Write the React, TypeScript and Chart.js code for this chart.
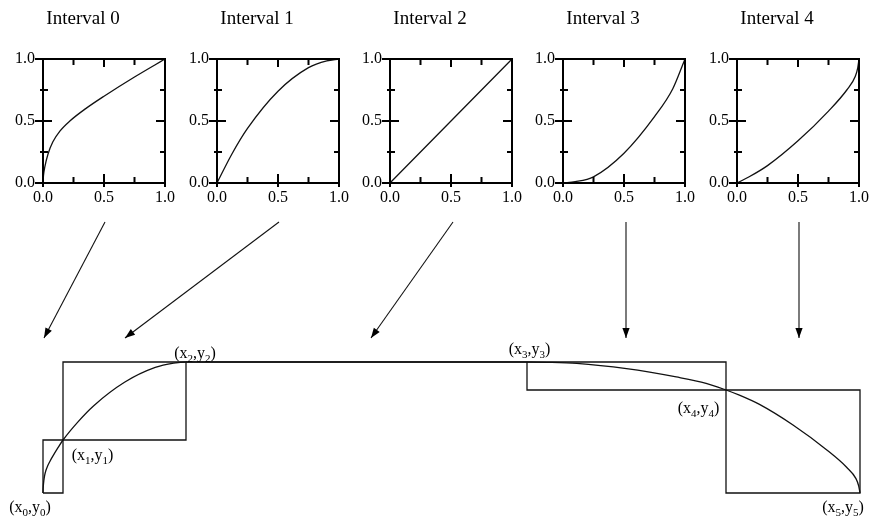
import React, { useEffect, useRef } from "react";
import { Chart, registerables } from "chart.js";

Chart.register(...registerables);

const SERIF = "'Liberation Serif', 'Times New Roman', Times, serif";
const INK = "#000";

// ---- Panel data: normalised shape of each interval (t along it, f = share of the rise) ----
const INTERVAL_TITLES = ["Interval 0", "Interval 1", "Interval 2", "Interval 3", "Interval 4"];

const SHAPE_T_0 = [0, 0.004, 0.015, 0.04, 0.08, 0.14, 0.22, 0.35, 0.5, 0.75, 1];
const SHAPE_F_0 = [0, 0.06, 0.13, 0.23, 0.33, 0.42, 0.5, 0.6, 0.7, 0.855, 1];
const SHAPE_T_1 = [0, 0.12, 0.25, 0.5, 0.75, 0.9, 1];
const SHAPE_F_1 = [0, 0.23, 0.44, 0.74, 0.93, 0.985, 1];
const SHAPE_T_2 = [0, 1];
const SHAPE_F_2 = [0, 1];
const SHAPE_T_3 = [0, 0.1, 0.25, 0.5, 0.75, 0.9, 1];
const SHAPE_F_3 = [0, 0.01, 0.05, 0.24, 0.535, 0.76, 1];
const SHAPE_T_4 = [0, 0.1, 0.25, 0.5, 0.75, 0.9, 0.97, 0.99, 1];
const SHAPE_F_4 = [0, 0.05, 0.14, 0.34, 0.58, 0.75, 0.86, 0.93, 1];

const SHAPES_T = [SHAPE_T_0, SHAPE_T_1, SHAPE_T_2, SHAPE_T_3, SHAPE_T_4];
const SHAPES_F = [SHAPE_F_0, SHAPE_F_1, SHAPE_F_2, SHAPE_F_3, SHAPE_F_4];

// Axis ticks of the small panels
const TICK_VALUES = [0, 0.25, 0.5, 0.75, 1];
const LABELED_TICKS = [0, 0.5, 1];

// ---- Diagram data: knots (x_i, y_i) of the piecewise curve ----
const KNOT_X = [0, 20, 143, 484, 683, 817];
const KNOT_Y = [0, 53, 131, 131, 103, 0];

// Arrows from each panel down to its interval
const ARROW_FROM_X = [62, 236, 410, 583, 756];
const ARROW_TO_X = [1, 82, 328, 583, 756];
const ARROW_FROM_Y = 271;
const ARROW_TO_Y = 155;

// ---- Layout ----
const PANEL_BOX_LEFT = [43, 217, 390, 563, 737];
const PANEL_AXIS_W = 43;
const PANEL_W = 180;
const PANEL_H = 210;
const DIAGRAM_TOP = 210;
const DIAGRAM_H = 310;
const KNOT_LABEL_OFFSETS: [number, number][] = [
  [-13, 19],
  [29.5, 19.5],
  [9, -4],
  [2.5, -8],
  [-27.5, 23],
  [-17, 18.5],
];

// Frame and tick marks of a small panel, on all four sides
const panelFramePlugin = {
  id: "panelFrame",
  afterDatasetsDraw(chart: any) {
    const { ctx, chartArea: a } = chart;
    const xs = chart.scales.x;
    const ys = chart.scales.y;
    ctx.save();
    ctx.strokeStyle = INK;
    ctx.lineWidth = 2;
    ctx.strokeRect(a.left, a.top, a.right - a.left, a.bottom - a.top);
    ctx.beginPath();
    xs.ticks.forEach((t: any) => {
      const px = xs.getPixelForValue(t.value);
      const major = LABELED_TICKS.includes(t.value);
      ctx.moveTo(px, a.bottom + (major ? 4 : 0));
      ctx.lineTo(px, a.bottom - (major ? 9 : 6));
      if (t.value > 0 && t.value < 1) {
        ctx.moveTo(px, a.top);
        ctx.lineTo(px, a.top + (major ? 8 : 6));
      }
    });
    ys.ticks.forEach((t: any) => {
      const py = ys.getPixelForValue(t.value);
      const major = LABELED_TICKS.includes(t.value);
      ctx.moveTo(a.left - (major ? 8 : 3), py);
      ctx.lineTo(a.left + (major ? 9 : 5), py);
      if (t.value > 0 && t.value < 1) {
        ctx.moveTo(a.right, py);
        ctx.lineTo(a.right - (major ? 9 : 5), py);
      }
    });
    ctx.stroke();
    ctx.restore();
  },
};

function drawKnotLabel(ctx: CanvasRenderingContext2D, i: number, cx: number, baseline: number) {
  const mainFont = `16px ${SERIF}`;
  const subFont = `11px ${SERIF}`;
  const parts: [string, boolean][] = [
    ["(x", false],
    [String(i), true],
    [",y", false],
    [String(i), true],
    [")", false],
  ];
  let total = 0;
  const widths = parts.map(([s, sub]) => {
    ctx.font = sub ? subFont : mainFont;
    const w = ctx.measureText(s).width;
    total += w;
    return w;
  });
  let x = cx - total / 2;
  ctx.fillStyle = INK;
  ctx.textAlign = "left";
  ctx.textBaseline = "alphabetic";
  parts.forEach(([s, sub], k) => {
    ctx.font = sub ? subFont : mainFont;
    ctx.fillText(s, x, sub ? baseline + 4 : baseline);
    x += widths[k];
  });
}

// Arrowheads and knot labels of the diagram
const diagramPlugin = {
  id: "diagramMarks",
  afterDatasetsDraw(chart: any) {
    const { ctx } = chart;
    const xs = chart.scales.x;
    const ys = chart.scales.y;
    ctx.save();
    chart.data.datasets.forEach((ds: any) => {
      if (!ds.arrow) return;
      const p0 = ds.data[0];
      const p1 = ds.data[ds.data.length - 1];
      const x0 = xs.getPixelForValue(p0.x);
      const y0 = ys.getPixelForValue(p0.y);
      const x1 = xs.getPixelForValue(p1.x);
      const y1 = ys.getPixelForValue(p1.y);
      const ang = Math.atan2(y1 - y0, x1 - x0);
      const len = 10;
      const half = 3.6;
      const bx = x1 - len * Math.cos(ang);
      const by = y1 - len * Math.sin(ang);
      ctx.fillStyle = INK;
      ctx.beginPath();
      ctx.moveTo(x1, y1);
      ctx.lineTo(bx + half * Math.sin(ang), by - half * Math.cos(ang));
      ctx.lineTo(bx - half * Math.sin(ang), by + half * Math.cos(ang));
      ctx.closePath();
      ctx.fill();
    });
    KNOT_X.forEach((kx, i) => {
      const px = xs.getPixelForValue(kx) + KNOT_LABEL_OFFSETS[i][0];
      const py = ys.getPixelForValue(KNOT_Y[i]) + KNOT_LABEL_OFFSETS[i][1];
      drawKnotLabel(ctx, i, px, py);
    });
    ctx.restore();
  },
};

const tickFont = { family: SERIF, size: 16 };

function panelConfig(i: number): any {
  const points = SHAPES_T[i].map((t, k) => ({ x: t, y: SHAPES_F[i][k] }));
  const setTicks = (scale: any) => {
    scale.ticks = TICK_VALUES.map((v) => ({ value: v }));
  };
  const label = (v: any) => (LABELED_TICKS.includes(Number(v)) ? Number(v).toFixed(1) : "");
  return {
    type: "line",
    data: {
      datasets: [
        {
          data: points,
          borderColor: "#111",
          borderWidth: 1.3,
          pointRadius: 0,
          fill: false,
          cubicInterpolationMode: "monotone",
        },
      ],
    },
    options: {
      animation: false,
      responsive: false,
      events: [],
      layout: { padding: { left: 0, right: PANEL_W - PANEL_AXIS_W - 123, top: 0, bottom: 0 } },
      plugins: {
        legend: { display: false },
        tooltip: { enabled: false },
        title: {
          display: true,
          text: INTERVAL_TITLES[i],
          color: INK,
          font: { family: SERIF, size: 19, weight: "normal", lineHeight: 1.2 },
          padding: { top: 8, bottom: 28.2 },
        },
      },
      scales: {
        x: {
          type: "linear",
          min: 0,
          max: 1,
          afterBuildTicks: setTicks,
          afterFit: (s: any) => {
            s.height = 27;
          },
          grid: { display: false, drawTicks: false },
          border: { display: false },
          ticks: { color: INK, font: tickFont, padding: 5, autoSkip: false, maxRotation: 0, callback: label },
        },
        y: {
          type: "linear",
          min: 0,
          max: 1,
          afterBuildTicks: setTicks,
          afterFit: (s: any) => {
            s.width = PANEL_AXIS_W;
          },
          grid: { display: false, drawTicks: false },
          border: { display: false },
          ticks: { color: INK, font: tickFont, padding: 8, autoSkip: false, callback: label },
        },
      },
    },
    plugins: [panelFramePlugin],
  };
}

function lineSet(data: { x: number; y: number }[], extra: any = {}) {
  return {
    data,
    borderColor: "#111",
    borderWidth: 1.3,
    pointRadius: 0,
    fill: false,
    tension: 0,
    clip: false,
    ...extra,
  };
}

function rect(xa: number, ya: number, xb: number, yb: number) {
  return [
    { x: xa, y: ya },
    { x: xb, y: ya },
    { x: xb, y: yb },
    { x: xa, y: yb },
    { x: xa, y: ya },
  ];
}

function diagramConfig(): any {
  // The curve: each interval's shape placed between its two knots
  const curve: { x: number; y: number }[] = [];
  for (let i = 0; i < 5; i++) {
    SHAPES_T[i].forEach((t, k) => {
      if (i > 0 && k === 0) return;
      curve.push({
        x: KNOT_X[i] + t * (KNOT_X[i + 1] - KNOT_X[i]),
        y: KNOT_Y[i] + SHAPES_F[i][k] * (KNOT_Y[i + 1] - KNOT_Y[i]),
      });
    });
  }
  const datasets: any[] = [
    lineSet(curve, { cubicInterpolationMode: "monotone" }),
    lineSet(rect(KNOT_X[0], KNOT_Y[0], KNOT_X[1], KNOT_Y[1])),
    lineSet(rect(KNOT_X[1], KNOT_Y[1], KNOT_X[2], KNOT_Y[2])),
    lineSet(rect(KNOT_X[3], KNOT_Y[3], KNOT_X[4], KNOT_Y[4])),
    lineSet(rect(KNOT_X[4], KNOT_Y[4], KNOT_X[5], KNOT_Y[5])),
    lineSet([
      { x: KNOT_X[2], y: KNOT_Y[2] },
      { x: KNOT_X[3], y: KNOT_Y[3] },
    ]),
  ];
  ARROW_FROM_X.forEach((fx, i) => {
    datasets.push(
      lineSet(
        [
          { x: fx, y: ARROW_FROM_Y },
          { x: ARROW_TO_X[i], y: ARROW_TO_Y },
        ],
        { borderWidth: 1.1, arrow: true }
      )
    );
  });
  return {
    type: "line",
    data: { datasets },
    options: {
      animation: false,
      responsive: false,
      events: [],
      layout: { padding: 0 },
      plugins: { legend: { display: false }, tooltip: { enabled: false } },
      scales: {
        x: { type: "linear", min: -43, max: 830, display: false },
        y: { type: "linear", min: -27, max: 283, display: false },
      },
    },
    plugins: [diagramPlugin],
  };
}

export default function App() {
  const panelRefs = useRef<(HTMLCanvasElement | null)[]>([]);
  const diagramRef = useRef<HTMLCanvasElement | null>(null);

  useEffect(() => {
    const charts: Chart[] = [];
    panelRefs.current.forEach((cv, i) => {
      if (cv) charts.push(new Chart(cv, panelConfig(i)));
    });
    if (diagramRef.current) charts.push(new Chart(diagramRef.current, diagramConfig()));
    return () => charts.forEach((c) => c.destroy());
  }, []);

  return (
    <div
      style={{
        position: "absolute",
        left: 0,
        top: 0,
        width: 873,
        height: 520,
        background: "#fff",
        overflow: "hidden",
      }}
    >
      {INTERVAL_TITLES.map((title, i) => (
        <canvas
          key={title}
          ref={(el) => {
            panelRefs.current[i] = el;
          }}
          width={PANEL_W}
          height={PANEL_H}
          style={{ position: "absolute", left: PANEL_BOX_LEFT[i] - PANEL_AXIS_W, top: 0 }}
        />
      ))}
      <canvas
        ref={diagramRef}
        width={873}
        height={DIAGRAM_H}
        style={{ position: "absolute", left: 0, top: DIAGRAM_TOP }}
      />
    </div>
  );
}
